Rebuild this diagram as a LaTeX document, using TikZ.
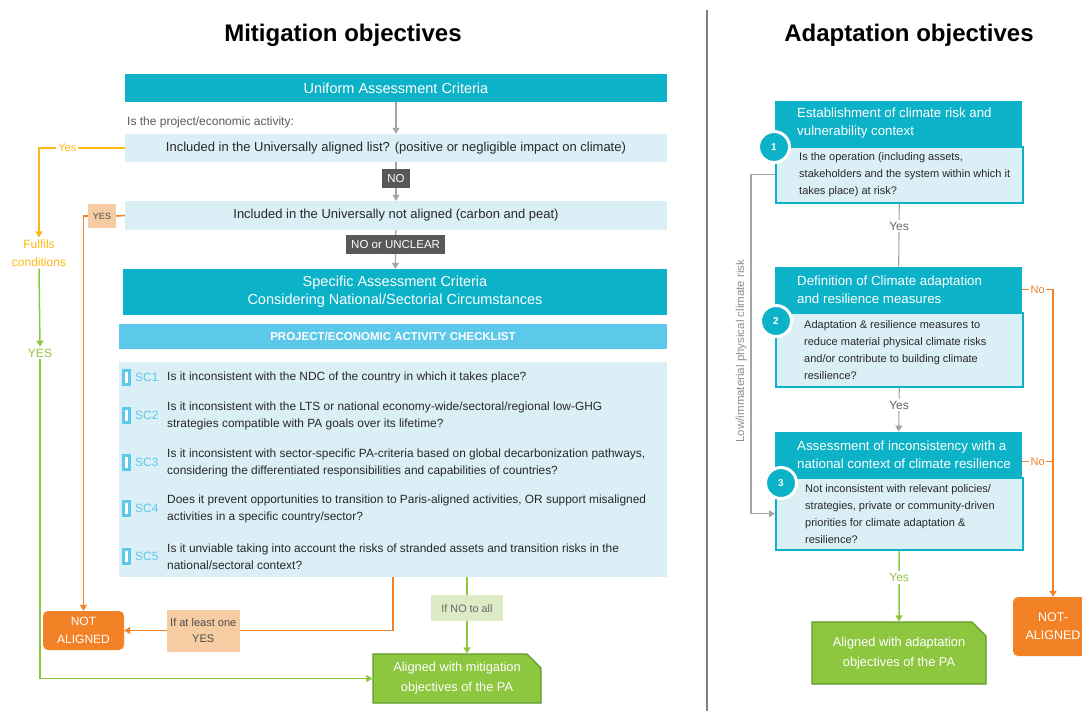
\documentclass[tikz,border=0pt]{standalone}
\usepackage{fontspec}
\setmainfont{Liberation Sans}
\usetikzlibrary{arrows.meta,positioning,shapes.misc}

\definecolor{uteal}{RGB}{12,178,199}
\definecolor{ublue}{RGB}{218,239,246}
\definecolor{uchk}{RGB}{92,200,234}
\definecolor{tagdark}{RGB}{88,88,88}
\definecolor{uorange}{RGB}{243,129,38}
\definecolor{upeach}{RGB}{246,204,162}
\definecolor{uyellow}{RGB}{254,184,20}
\definecolor{ugreen}{RGB}{141,198,63}
\definecolor{udgreen}{RGB}{98,152,44}
\definecolor{ulgreen}{RGB}{220,235,198}
\definecolor{ugrey}{RGB}{165,165,165}
\definecolor{utext}{RGB}{40,40,40}

\begin{document}
\begin{tikzpicture}[x=1pt, y=-1pt,
    tealbar/.style={fill=uteal, text=white, inner sep=0pt, align=center,
      font=\fontsize{14.5}{18}\selectfont},
    qbar/.style={fill=ublue, inner sep=0pt, minimum width=542pt,
      text=utext, font=\fontsize{13}{15}\selectfont},
    darktag/.style={fill=tagdark, text=white, inner xsep=5pt, inner ysep=0pt,
      minimum height=19pt, font=\fontsize{11.5}{13}\selectfont},
    peachtag/.style={fill=upeach, text=black!70, align=center, inner sep=0pt,
      minimum width=73pt, minimum height=42pt, font=\fontsize{11}{16}\selectfont},
    lgtag/.style={fill=ulgreen, text=black!60, inner sep=0pt, minimum width=72pt,
      minimum height=26pt, font=\fontsize{10.8}{12}\selectfont},
    scmark/.style={draw=uchk, line width=3pt, fill=white, minimum width=6pt,
      minimum height=14pt, inner sep=0pt},
    sclabel/.style={text=uchk, anchor=west, inner sep=0pt,
      font=\fontsize{12}{14}\selectfont},
    sctext/.style={text=utext, align=left, anchor=west, inner sep=0pt,
      font=\fontsize{11.9}{17}\selectfont},
    notbox/.style={fill=uorange, text=white, rounded corners=5pt, align=center,
      inner sep=0pt, font=\fontsize{12}{18}\selectfont},
    okbox/.style={chamfered rectangle, chamfered rectangle corners=north east,
      chamfered rectangle xsep=7pt, chamfered rectangle ysep=7pt, fill=ugreen,
      draw=udgreen, line width=1.2pt, text=white, align=center, inner sep=0pt,
      font=\fontsize{12.8}{20}\selectfont},
    ahead/.style={fill=uteal, minimum width=247pt, minimum height=45pt,
      inner sep=0pt, anchor=south west},
    abody/.style={fill=ublue, draw=uteal, line width=1.5pt, minimum width=247pt,
      inner sep=0pt, anchor=north west},
    aheadtext/.style={text=white, align=left, anchor=west, inner sep=0pt,
      font=\fontsize{13.3}{18}\selectfont},
    abodytext/.style={text=utext, align=left, anchor=west, inner sep=0pt,
      font=\fontsize{11}{17}\selectfont},
    stepcircle/.style={circle, fill=uteal, draw=white, line width=3pt,
      minimum size=31pt, inner sep=0pt, text=white,
      font=\fontsize{10}{11}\selectfont\bfseries},
    yeslabel/.style={fill=white, inner sep=2pt, font=\fontsize{12}{13}\selectfont},
    greyline/.style={draw=ugrey, line width=1.1pt},
    greyarr/.style={greyline, -{Triangle[width=7pt,length=6pt]}},
    orline/.style={draw=uorange, line width=1.5pt},
    orarr/.style={orline, -{Triangle[width=7pt,length=6pt]}},
    yelarr/.style={draw=uyellow, line width=1.5pt, -{Triangle[width=7pt,length=6pt]}},
    grarr/.style={draw=ugreen, line width=1.5pt, -{Triangle[width=7pt,length=6pt]}}
  ]
  \useasboundingbox (0,0) rectangle (1082,710);

  % titles and divider
  \node[font=\fontsize{24}{28}\selectfont\bfseries] (tmit) at (343,35) {Mitigation objectives};

  \node[font=\fontsize{24}{28}\selectfont\bfseries] (tada) at (909,35) {Adaptation objectives};

  \draw[draw=black!50, line width=2.5pt] (707,10) -- (707,712);

  % mitigation: uniform criteria
  \node[tealbar, minimum width=542pt, minimum height=28pt] (uac) at (396,88)
    {Uniform Assessment Criteria};

  \node[anchor=west, inner sep=0pt, text=black!65, font=\fontsize{12}{14}\selectfont]
    (isq) at (127,122) {Is the project/economic activity:};

  \node[qbar, minimum height=28pt] (ual) at (396,148)
    {Included in the Universally aligned list? (positive or negligible impact on climate)};

  \node[qbar, minimum height=29pt] (una) at (396,215.5)
    {Included in the Universally not aligned (carbon and peat)};

  \node[tealbar, minimum width=544pt, minimum height=46pt] (sac) at (395,292)
    {Specific Assessment Criteria\\Considering National/Sectorial Circumstances};

  \node[fill=uchk, text=white, minimum width=548pt, minimum height=25pt, inner sep=0pt,
    font=\fontsize{11.5}{13}\selectfont\bfseries] (chkh) at (393,336.5)
    {PROJECT/ECONOMIC ACTIVITY CHECKLIST};

  \node[fill=ublue, minimum width=548pt, minimum height=215pt, inner sep=0pt]
    (chk) at (393,469.5) {};

  \foreach \yy/\sc/\txt in {
      377/SC1/{Is it inconsistent with the NDC of the country in which it takes place?},
      415.5/SC2/{Is it inconsistent with the LTS or national economy-wide/sectoral/regional low-GHG\\strategies compatible with PA goals over its lifetime?},
      462.5/SC3/{Is it inconsistent with sector-specific PA-criteria based on global decarbonization pathways,\\considering the differentiated responsibilities and capabilities of countries?},
      508.5/SC4/{Does it prevent opportunities to transition to Paris-aligned activities, OR support misaligned\\activities in a specific country/sector?},
      556.5/SC5/{Is it unviable taking into account the risks of stranded assets and transition risks in the\\national/sectoral context?}}
  {
    \node[scmark] (m\sc) at (126,\yy) {};
    \node[sclabel] (l\sc) at (135,\yy) {\sc};
    \node[sctext] (t\sc) at (167,\yy) {\txt};
  }

  % mitigation: outcomes
  \node[fill=white, inner sep=2pt, text=uyellow, align=center,
    font=\fontsize{12}{18}\selectfont] (ful) at (39,253) {Fulfils\\conditions};

  \node[inner sep=2pt, text=ugreen, font=\fontsize{12}{14}\selectfont] (yesg) at (40,353) {YES};

  \node[fill=upeach, text=black!70, inner sep=0pt, minimum width=28pt, minimum height=24pt,
    font=\fontsize{9}{10}\selectfont] (yesl) at (102,216) {YES};

  \node[notbox, minimum width=81pt, minimum height=39pt] (nal) at (83.5,630.5) {NOT\\ALIGNED};

  \node[okbox, minimum width=168pt, minimum height=49pt] (am) at (457,678.5)
    {Aligned with mitigation\\objectives of the PA};

  \draw[greyarr] (uac) -- (ual);

  \draw[greyarr] (ual) -- node[darktag, pos=0.42] (no) {NO} (una);

  \draw[greyarr] (una) -- node[darktag, pos=0.37] (nou) {NO or UNCLEAR} (sac);

  \draw[yelarr] (ual.west) -| node[pos=0.335, fill=white, inner sep=2pt, text=uyellow,
    font=\fontsize{11}{12}\selectfont] (yy) {Yes} (ful.north);

  \draw[grarr] (ful.south) -- (yesg.north);

  \draw[grarr] (yesg.south) |- (am.west);

  \draw[orline] (una.west) -- (yesl.east);

  \draw[orarr] (yesl.west) -| (nal.north);

  \draw[orarr] (chk.south) |- node[peachtag, pos=0.853] (oneyes) {If at least one\\YES} (nal.east);

  \draw[grarr] ([xshift=74pt]chk.south) -- node[lgtag, pos=0.41] (noall) {If NO to all}
    ([xshift=74pt]chk.south |- am.north);

  % adaptation: three steps
  \node[abody, minimum height=56pt] (b1) at (775,146) {};
  \node[ahead] (h1) at (775,146) {};
  \node[aheadtext, right=22pt of h1.west] (h1t)
    {Establishment of climate risk and\\vulnerability context};
  \node[abodytext, right=24pt of b1.west] (b1t)
    {Is the operation (including assets,\\stakeholders and the system within which it\\takes place) at risk?};
  \node[stepcircle] (c1) at (774,147) {1};

  \node[abody, minimum height=74pt] (b2) at (775,312) {};
  \node[ahead] (h2) at (775,312) {};
  \node[aheadtext, right=22pt of h2.west] (h2t)
    {Definition of Climate adaptation\\and resilience measures};
  \node[abodytext, right=29pt of b2.west] (b2t)
    {Adaptation \& resilience measures to\\reduce material physical climate risks\\and/or contribute to building climate\\resilience?};
  \node[stepcircle] (c2) at (776,321) {2};

  \node[abody, minimum height=72pt] (b3) at (775,477) {};
  \node[ahead] (h3) at (775,477) {};
  \node[aheadtext, right=22pt of h3.west] (h3t)
    {Assessment of inconsistency with a\\national context of climate resilience};
  \node[abodytext, right=30pt of b3.west] (b3t)
    {Not inconsistent with relevant policies/\\strategies, private or community-driven\\priorities for climate adaptation \&\\resilience?};
  \node[stepcircle] (c3) at (781,483) {3};

  % adaptation: outcomes
  \node[okbox, minimum width=174pt, minimum height=62pt] (aa) at (899,653)
    {Aligned with adaptation\\objectives of the PA};

  \node[notbox, minimum width=80pt, minimum height=59pt, font=\fontsize{12.5}{18}\selectfont]
    (nar) at (1053,626.5) {NOT-\\ALIGNED};

  \draw[greyline] (b1.south) -- node[yeslabel, pos=0.36, text=black!60] (y1) {Yes} (h2.north);

  \draw[greyarr] (b2.south) -- node[yeslabel, pos=0.4, text=black!60] (y2) {Yes} (h3.north);

  \draw[grarr] (b3.south) -- node[yeslabel, pos=0.38, text=ugreen] (y3) {Yes} (aa.north);

  \draw[greyarr] (b1.west) -- ++(-24pt,0) |- node[pos=0.26, rotate=90, anchor=south,
    inner sep=4pt, text=black!45, font=\fontsize{11.5}{13}\selectfont] (low)
    {Low/immaterial physical climate risk} (b3.west);

  \draw[orarr] (h2.east) -| node[pos=0.25, fill=white, inner sep=1.5pt, text=uorange,
    font=\fontsize{11}{12}\selectfont] (no2) {No} (nar.north);

  \draw[orline] ([yshift=-7pt]h3.east) -- node[fill=white, inner sep=1.5pt, text=uorange,
    font=\fontsize{11}{12}\selectfont] (no3) {No} ([yshift=-7pt]h3.east -| nar.north);
\end{tikzpicture}
\end{document}
